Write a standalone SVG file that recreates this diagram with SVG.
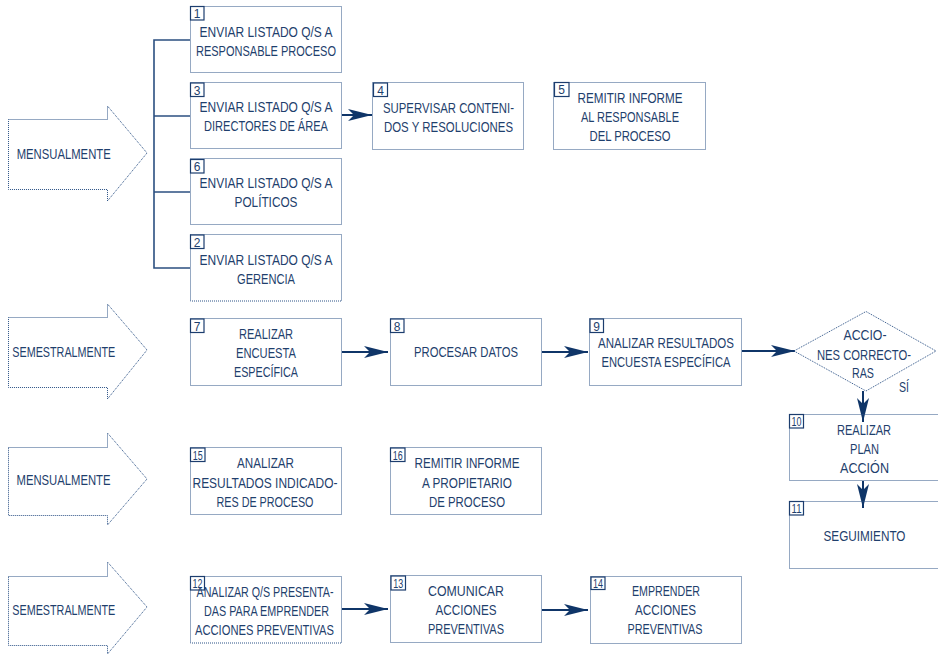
<svg xmlns="http://www.w3.org/2000/svg" width="938" height="655" viewBox="0 0 938 655">
<style>
.bg{fill:#ffffff}
.box{fill:none;stroke:#2c5286;stroke-width:1;stroke-dasharray:1 1}
.big{fill:none;stroke:#2c5286;stroke-width:1;stroke-dasharray:1 1}
.num{fill:#ffffff;stroke:#1c3d6e;stroke-width:1.2}
.t{font-family:"Liberation Sans",Arial,sans-serif;font-size:14.5px;fill:#1f3f6d;text-anchor:middle}
.ts{font-family:"Liberation Sans",Arial,sans-serif;font-size:14.5px;fill:#1f3f6d;text-anchor:start}
.n{font-family:"Liberation Sans",Arial,sans-serif;font-size:12px;fill:#1f3f6d;text-anchor:middle}
.line{fill:none;stroke:#0f3568;stroke-width:2}
.br{fill:none;stroke:#2b4f80;stroke-width:1.6}
</style>
<defs>
<marker id="ah" viewBox="0 0 24 12" refX="24" refY="6" markerWidth="24" markerHeight="12" markerUnits="userSpaceOnUse" orient="auto">
<path d="M24,6 L0,0 L6,6 L0,12 Z" fill="#0f3568"/>
</marker>
</defs>
<rect class="bg" x="0" y="0" width="938" height="655"/>

<g id="freq1">
<polygon class="big" points="8.5,119.5 107.5,119.5 107.5,106 147,153 107.5,201 107.5,189.5 8.5,189.5"/>
<text class="ts" x="16.7" y="159" textLength="94" lengthAdjust="spacingAndGlyphs">MENSUALMENTE</text>
</g>
<g id="freq2">
<polygon class="big" points="8.5,317.5 107.5,317.5 107.5,304 147,350 107.5,399 107.5,387.5 8.5,387.5"/>
<text class="ts" x="12.3" y="357" textLength="103" lengthAdjust="spacingAndGlyphs">SEMESTRALMENTE</text>
</g>
<g id="freq3">
<polygon class="big" points="8.5,447.5 107.5,447.5 107.5,433 147,479 107.5,525 107.5,515.5 8.5,515.5"/>
<text class="ts" x="16.5" y="485" textLength="94" lengthAdjust="spacingAndGlyphs">MENSUALMENTE</text>
</g>
<g id="freq4">
<polygon class="big" points="8.5,576.5 107.5,576.5 107.5,562 147,607 107.5,654 107.5,645.5 8.5,645.5"/>
<text class="ts" x="12.3" y="615" textLength="103" lengthAdjust="spacingAndGlyphs">SEMESTRALMENTE</text>
</g>

<g id="connectors">
<polyline class="br" points="190,40 154,40 154,268 190,268"/>
<line class="br" x1="154" y1="116" x2="190" y2="116"/>
<line class="br" x1="154" y1="192" x2="190" y2="192"/>
<line class="line" x1="342" y1="115" x2="372" y2="115" marker-end="url(#ah)"/>
<line class="line" x1="342" y1="352" x2="388" y2="352" marker-end="url(#ah)"/>
<line class="line" x1="542" y1="352" x2="588" y2="352" marker-end="url(#ah)"/>
<line class="line" x1="742" y1="351" x2="795" y2="351" marker-end="url(#ah)"/>
<line class="line" x1="863" y1="391" x2="863" y2="422" marker-end="url(#ah)"/>
<line class="line" x1="863" y1="481" x2="863" y2="508" marker-end="url(#ah)"/>
<line class="line" x1="342" y1="609" x2="388" y2="609" marker-end="url(#ah)"/>
<line class="line" x1="542" y1="610" x2="588" y2="610" marker-end="url(#ah)"/>
</g>

<g id="n1">
<rect class="box" x="190.5" y="6.5" width="151" height="66"/>
<rect class="num" x="190.5" y="6.5" width="13.5" height="13.5"/>
<text class="n" x="197.2" y="18">1</text>
<text class="t" x="266" y="37" textLength="133" lengthAdjust="spacingAndGlyphs">ENVIAR LISTADO Q/S A</text>
<text class="t" x="266" y="56" textLength="140" lengthAdjust="spacingAndGlyphs">RESPONSABLE PROCESO</text>
</g>
<g id="n3">
<rect class="box" x="190.5" y="82.5" width="151" height="66"/>
<rect class="num" x="190.5" y="83" width="13.5" height="13.5"/>
<text class="n" x="197.2" y="94.5">3</text>
<text class="t" x="266" y="112" textLength="133" lengthAdjust="spacingAndGlyphs">ENVIAR LISTADO Q/S A</text>
<text class="t" x="266" y="131" textLength="124" lengthAdjust="spacingAndGlyphs">DIRECTORES DE ÁREA</text>
</g>
<g id="n6">
<rect class="box" x="190.5" y="158.5" width="151" height="66"/>
<rect class="num" x="190.5" y="159.5" width="13.5" height="13.5"/>
<text class="n" x="197.2" y="171">6</text>
<text class="t" x="266" y="188" textLength="133" lengthAdjust="spacingAndGlyphs">ENVIAR LISTADO Q/S A</text>
<text class="t" x="266" y="207" textLength="63" lengthAdjust="spacingAndGlyphs">POLÍTICOS</text>
</g>
<g id="n2">
<rect class="box" x="190.5" y="234.5" width="151" height="66.5"/>
<rect class="num" x="190.5" y="235" width="13.5" height="13.5"/>
<text class="n" x="197.2" y="246.5">2</text>
<text class="t" x="266" y="265" textLength="133" lengthAdjust="spacingAndGlyphs">ENVIAR LISTADO Q/S A</text>
<text class="t" x="266" y="284" textLength="58" lengthAdjust="spacingAndGlyphs">GERENCIA</text>
</g>
<g id="n4">
<rect class="box" x="372.5" y="82.5" width="151" height="67"/>
<rect class="num" x="373.5" y="83" width="14" height="13.5"/>
<text class="n" x="380.5" y="94.5">4</text>
<text class="t" x="448.5" y="113" textLength="131" lengthAdjust="spacingAndGlyphs">SUPERVISAR CONTENI-</text>
<text class="t" x="448.5" y="132" textLength="129" lengthAdjust="spacingAndGlyphs">DOS Y RESOLUCIONES</text>
</g>
<g id="n5">
<rect class="box" x="553.5" y="82.5" width="152" height="67"/>
<rect class="num" x="554.5" y="82.5" width="14.5" height="14"/>
<text class="n" x="561.7" y="94.3">5</text>
<text class="t" x="630" y="103" textLength="105" lengthAdjust="spacingAndGlyphs">REMITIR INFORME</text>
<text class="t" x="630" y="122" textLength="98" lengthAdjust="spacingAndGlyphs">AL RESPONSABLE</text>
<text class="t" x="630" y="141" textLength="81" lengthAdjust="spacingAndGlyphs">DEL PROCESO</text>
</g>
<g id="n7">
<rect class="box" x="190.5" y="318.5" width="151" height="67"/>
<rect class="num" x="190.5" y="319" width="13.5" height="13.5"/>
<text class="n" x="197.2" y="330.5">7</text>
<text class="t" x="266" y="339" textLength="54" lengthAdjust="spacingAndGlyphs">REALIZAR</text>
<text class="t" x="266" y="358" textLength="60" lengthAdjust="spacingAndGlyphs">ENCUESTA</text>
<text class="t" x="266" y="377" textLength="64" lengthAdjust="spacingAndGlyphs">ESPECÍFICA</text>
</g>
<g id="n8">
<rect class="box" x="390.5" y="318.5" width="151" height="67"/>
<rect class="num" x="390.5" y="319" width="13.5" height="13.5"/>
<text class="n" x="397.2" y="330.5">8</text>
<text class="t" x="466" y="357" textLength="104" lengthAdjust="spacingAndGlyphs">PROCESAR DATOS</text>
</g>
<g id="n9">
<rect class="box" x="589.5" y="318.5" width="152" height="67"/>
<rect class="num" x="590" y="319" width="13.5" height="13.5"/>
<text class="n" x="596.7" y="330.5">9</text>
<text class="t" x="666" y="348" textLength="136" lengthAdjust="spacingAndGlyphs">ANALIZAR RESULTADOS</text>
<text class="t" x="666" y="367" textLength="129" lengthAdjust="spacingAndGlyphs">ENCUESTA ESPECÍFICA</text>
</g>
<g id="decision">
<polygon class="box" points="794,351 866,311.5 936,351 866,391"/>
<text class="t" x="865" y="340" textLength="43" lengthAdjust="spacingAndGlyphs">ACCIO-</text>
<text class="t" x="864" y="360" textLength="94" lengthAdjust="spacingAndGlyphs">NES CORRECTO-</text>
<text class="t" x="863" y="378" textLength="22" lengthAdjust="spacingAndGlyphs">RAS</text>
<text class="t" x="904" y="392" textLength="10" lengthAdjust="spacingAndGlyphs">SÍ</text>
</g>
<g id="n10">
<rect class="box" x="789.5" y="414.5" width="160" height="66"/>
<rect class="num" x="789.5" y="414.5" width="14" height="13.5"/>
<text class="n" x="796.5" y="426" textLength="10" lengthAdjust="spacingAndGlyphs">10</text>
<text class="t" x="864" y="435" textLength="54" lengthAdjust="spacingAndGlyphs">REALIZAR</text>
<text class="t" x="864.5" y="454" textLength="29" lengthAdjust="spacingAndGlyphs">PLAN</text>
<text class="t" x="864.5" y="473" textLength="49" lengthAdjust="spacingAndGlyphs">ACCIÓN</text>
</g>
<g id="n11">
<rect class="box" x="789.5" y="501.5" width="160" height="67"/>
<rect class="num" x="789.5" y="501.5" width="14" height="13.5"/>
<text class="n" x="796.5" y="513" textLength="10" lengthAdjust="spacingAndGlyphs">11</text>
<text class="t" x="864.5" y="541" textLength="82" lengthAdjust="spacingAndGlyphs">SEGUIMIENTO</text>
</g>
<g id="n15">
<rect class="box" x="190.5" y="447.5" width="151" height="67"/>
<rect class="num" x="190.5" y="448" width="14.5" height="13.5"/>
<text class="n" x="197.7" y="459.5" textLength="10" lengthAdjust="spacingAndGlyphs">15</text>
<text class="t" x="265.5" y="468" textLength="57" lengthAdjust="spacingAndGlyphs">ANALIZAR</text>
<text class="t" x="265" y="488" textLength="145" lengthAdjust="spacingAndGlyphs">RESULTADOS INDICADO-</text>
<text class="t" x="265" y="507" textLength="97" lengthAdjust="spacingAndGlyphs">RES DE PROCESO</text>
</g>
<g id="n16">
<rect class="box" x="390.5" y="447.5" width="151" height="67"/>
<rect class="num" x="390.5" y="448" width="14.5" height="13.5"/>
<text class="n" x="397.7" y="459.5" textLength="10" lengthAdjust="spacingAndGlyphs">16</text>
<text class="t" x="467" y="468" textLength="105" lengthAdjust="spacingAndGlyphs">REMITIR INFORME</text>
<text class="t" x="467" y="488" textLength="90" lengthAdjust="spacingAndGlyphs">A PROPIETARIO</text>
<text class="t" x="467" y="507" textLength="76" lengthAdjust="spacingAndGlyphs">DE PROCESO</text>
</g>
<g id="n12">
<rect class="box" x="190.5" y="576.5" width="151" height="66.5"/>
<rect class="num" x="190.5" y="576.5" width="14" height="13.5"/>
<text class="n" x="197.5" y="588" textLength="10" lengthAdjust="spacingAndGlyphs">12</text>
<text class="t" x="265" y="597" textLength="137" lengthAdjust="spacingAndGlyphs">ANALIZAR Q/S PRESENTA-</text>
<text class="t" x="266.5" y="616" textLength="125" lengthAdjust="spacingAndGlyphs">DAS PARA EMPRENDER</text>
<text class="t" x="264.5" y="635" textLength="139" lengthAdjust="spacingAndGlyphs">ACCIONES PREVENTIVAS</text>
</g>
<g id="n13">
<rect class="box" x="390.5" y="575.5" width="151" height="67"/>
<rect class="num" x="391" y="576" width="14.5" height="14"/>
<text class="n" x="398.2" y="588" textLength="10" lengthAdjust="spacingAndGlyphs">13</text>
<text class="t" x="466" y="596" textLength="76" lengthAdjust="spacingAndGlyphs">COMUNICAR</text>
<text class="t" x="466" y="615" textLength="61" lengthAdjust="spacingAndGlyphs">ACCIONES</text>
<text class="t" x="466" y="634" textLength="76" lengthAdjust="spacingAndGlyphs">PREVENTIVAS</text>
</g>
<g id="n14">
<rect class="box" x="590.5" y="576.5" width="151" height="67"/>
<rect class="num" x="591" y="577" width="14" height="12.5"/>
<text class="n" x="598" y="588" textLength="10" lengthAdjust="spacingAndGlyphs">14</text>
<text class="t" x="666" y="596" textLength="68" lengthAdjust="spacingAndGlyphs">EMPRENDER</text>
<text class="t" x="665.5" y="615" textLength="61" lengthAdjust="spacingAndGlyphs">ACCIONES</text>
<text class="t" x="665" y="634" textLength="75" lengthAdjust="spacingAndGlyphs">PREVENTIVAS</text>
</g>
</svg>
